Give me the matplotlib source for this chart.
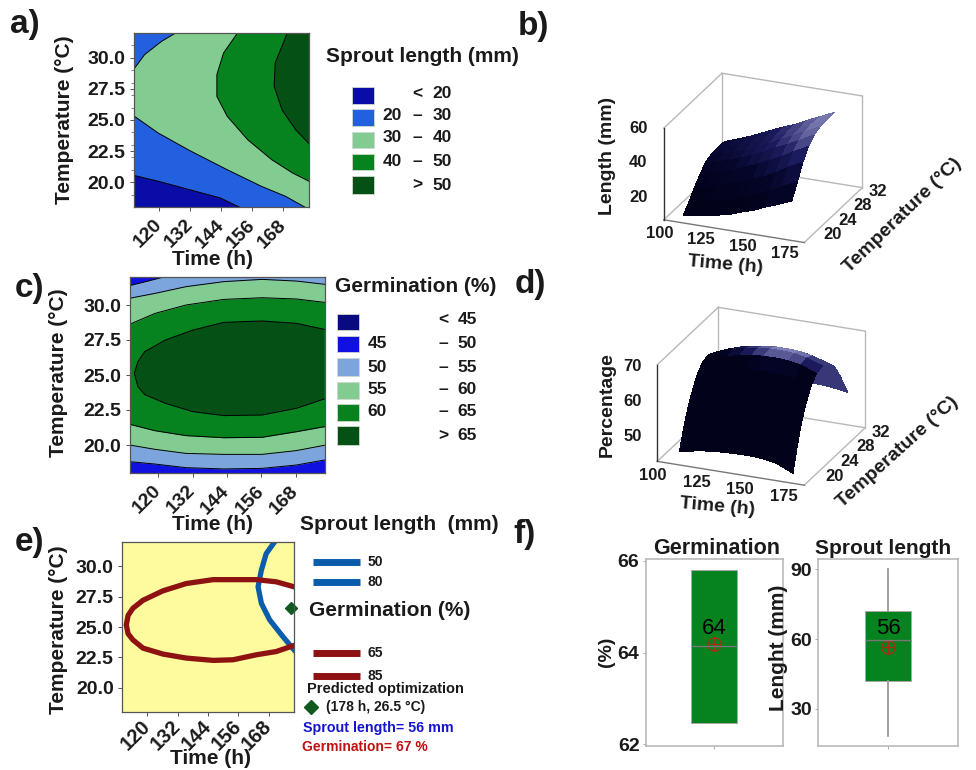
import numpy as np
import matplotlib
matplotlib.use("Agg")
import matplotlib.pyplot as plt
from matplotlib.colors import LinearSegmentedColormap
from matplotlib.patches import Rectangle
from mpl_toolkits.mplot3d import proj3d

plt.rcParams['font.family'] = ['Liberation Sans', 'DejaVu Sans']

W, H = 976, 770

# a) sprout length contour lines (time, temperature)
a_20_t = [110, 119.6, 131.6, 143.6, 150.9]
a_20_T = [20.55, 20.07, 19.4, 18.73, 18]
a_30low_t = [110, 119.6, 131.6, 146.3, 159.6, 168.9, 176.3]
a_30low_T = [25.35, 23.95, 22.56, 21.0, 19.66, 18.86, 18]
a_30up_t = [110, 114.3, 120.9, 126.3]
a_30up_T = [29.05, 30.26, 31.33, 32]
a_40_t = [150.3, 144.9, 142.3, 142.3, 146.3, 154.3, 163.6, 171.6, 178]
a_40_T = [32, 30.4, 28.65, 26.9, 25.3, 23.4, 21.8, 20.74, 20.07]
a_50_t = [169.6, 164.9, 164.5, 167.6, 172.9, 178]
a_50_T = [32, 29.6, 27.7, 25.8, 24.2, 23.1]

# c) germination contour lines, all on the same time values
c_t = [110, 118.9, 129.7, 142.9, 156.2, 168.2, 178]
c_55up = [30.48, 30.83, 31.31, 31.67, 31.83, 31.71, 31.48]
c_60up = [28.62, 29.4, 30.0, 30.4, 30.52, 30.43, 30.19]
c_60low = [21.48, 21.02, 20.67, 20.52, 20.55, 20.95, 21.31]
c_55low = [20.0, 19.69, 19.4, 19.33, 19.33, 19.6, 19.98]
c_50low = [18.81, 18.64, 18.38, 18.29, 18.33, 18.57, 18.93]
c_45_t = [110, 116.5, 121.9]
c_45_T = [31.38, 31.71, 32]
c_65_t = [178, 168.2, 156.2, 142.9, 132.1, 122.5, 115.3, 112.9, 111.7, 112.9, 115.3, 122.5, 132.1, 142.9, 156.2, 168.2, 178]
c_65_T = [28.26, 28.69, 28.86, 28.76, 28.21, 27.5, 26.67, 25.95, 25.12, 24.17, 23.6, 22.98, 22.38, 22.1, 22.14, 22.62, 23.29]

# e) overlaid contours
e_red_t = [178, 171, 163.1, 146, 135.4, 126.2, 118.3, 114.3, 112.4, 111.7, 112.4, 114.3, 118.3, 126.2, 135.4, 146, 153.9, 163.1, 171, 178]
e_red_T = [28.31, 28.72, 28.9, 28.9, 28.58, 27.98, 27.2, 26.54, 25.95, 25.17, 24.45, 23.94, 23.26, 22.77, 22.44, 22.25, 22.3, 22.71, 22.98, 23.48]
e_blue_t = [170.3, 167, 165.1, 163.8, 165.1, 168.4, 173.6, 178]
e_blue_T = [32, 31.04, 29.68, 28.31, 26.95, 25.58, 24.21, 23.12]
e_white_t = [164.2, 171, 178, 178, 173.6, 168.4, 165.1, 163.8]
e_white_T = [28.9, 28.72, 28.31, 23.3, 24.21, 25.58, 26.95, 28.31]
opt_t, opt_T = 176.7, 26.6

time_ticks = [120, 132, 144, 156, 168]
temp_ticks = [20.0, 22.5, 25.0, 27.5, 30.0]

# b) length surface
b_t = [108, 115, 122, 129, 136, 143, 150, 157, 164, 173]
b_T = [18, 19.5, 21, 22.5, 24, 25.5, 27, 28.5, 29.5]
b_Z = [[7.5, 8.5, 9.5, 11, 12.5, 15, 17, 20, 22.5, 26],
       [12, 13.5, 15, 17, 18.5, 21, 23.5, 27, 30, 34],
       [17.5, 19, 21, 23, 25, 28, 30.5, 34, 38, 42.5],
       [22, 24, 26, 28, 31, 33.5, 37, 40, 44, 48.5],
       [26, 27.5, 29.5, 32, 34.5, 37.5, 41, 44, 47.5, 52],
       [27.5, 29, 31, 33.5, 36, 39.5, 43, 46, 49.5, 53.5],
       [28, 30, 32, 34.5, 37, 40.5, 43.5, 46.5, 50, 54],
       [28, 30, 32.5, 35, 37.5, 41, 44, 47, 50, 54],
       [27, 29.5, 32, 35, 38, 41, 43.5, 47, 50, 54]]

# d) germination surface
d_t = [109, 116, 123, 130, 137, 144, 151, 158, 165, 174]
d_T = [18, 19, 20, 21, 22.5, 24, 25.5, 27, 28.5, 30, 32]
d_Z = [[44.5, 45.2, 45.8, 46.2, 46.4, 46.5, 46.5, 46.2, 45.5, 43.5],
       [49.5, 50.3, 51, 51.6, 52.1, 52.4, 52.5, 52.3, 51.6, 49.7],
       [54, 55, 55.9, 56.5, 57.1, 57.5, 57.5, 57.3, 56.6, 55],
       [57.5, 58.7, 59.8, 60.5, 61.1, 61.5, 61.5, 61.3, 60.6, 59],
       [61.7, 63, 64.2, 65, 65.6, 66, 66, 65.8, 65, 63.5],
       [64, 65.5, 66.7, 67.5, 68.1, 68.5, 68.5, 68.3, 67.6, 66],
       [64.5, 66, 67.2, 68, 68.6, 69, 69, 68.8, 68.1, 66.5],
       [63.5, 65, 66.2, 67, 67.6, 68, 68, 67.8, 67.1, 65.6],
       [61, 62.5, 63.7, 64.5, 65.1, 65.5, 65.5, 65.3, 64.7, 63.3],
       [56.5, 58, 59.2, 60, 60.6, 61, 61, 60.8, 60.2, 59],
       [47, 48.6, 50, 51, 52, 52.8, 53, 53, 52.7, 52]]

# f) boxes
germ_stats = dict(med=64.15, q1=62.47, q3=65.81, whislo=62.47, whishi=65.81, fliers=[])
germ_mean = 64.18
germ_label = '64'
sprout_stats = dict(med=59.5, q1=41.8, q3=72.2, whislo=18.4, whishi=90, fliers=[])
sprout_mean = 56.5
sprout_label = '56'

DBLUE = '#0A0CA8'
BLUE = '#2260E0'
LBLUE = '#7BA5DC'
LGREEN = '#82CC92'
GREEN = '#06821F'
DGREEN = '#055014'
NAVY = '#0A0A80'
PURE = '#1010E0'
TXT = '#1a1a1a'


def ax_px(left, top, right, bottom, **kw):
    return fig.add_axes([left / W, 1 - bottom / H, (right - left) / W, (bottom - top) / H], **kw)


def t_px(x, y, s, size=14, weight='bold', color=TXT, ha='center', va='center', rot=0):
    if s:
        fig.text(x / W, 1 - y / H, s, fontsize=size, fontweight=weight, color=color, ha=ha, va=va, rotation=rot,
                 rotation_mode='anchor')


def swatch(x0, x1, y0, y1, c):
    fig.patches.append(Rectangle((x0 / W, 1 - y1 / H), (x1 - x0) / W, (y1 - y0) / H, transform=fig.transFigure,
                                 facecolor=c, edgecolor='#d0d8d0', lw=0.6))


def contour_axes(ax, xsize=14):
    ax.set_xlim(110, 178)
    ax.set_ylim(18, 32)
    ax.set_xticks(time_ticks)
    ax.set_xticklabels(time_ticks, rotation=45, ha='right', va='center', rotation_mode='anchor', fontsize=xsize,
                       fontweight='bold', color=TXT)
    ax.set_yticks(temp_ticks)
    ax.set_yticklabels(['%.1f' % v for v in temp_ticks], fontsize=14, fontweight='bold', color=TXT)
    ax.tick_params(length=3, width=0.7, color='#555555', pad=3)
    ax.tick_params(axis='x', pad=8)
    for s in ax.spines.values():
        s.set_color('#555555')
        s.set_linewidth(0.9)


fig = plt.figure(figsize=(W / 100, H / 100), dpi=100)

# ---- a
ax = ax_px(133.5, 33, 309, 207)
ax.set_facecolor(LGREEN)
ax.fill(a_30low_t + [178, 110], a_30low_T + [18, 18], color=BLUE, lw=0)
ax.fill(a_20_t + [110], a_20_T + [18], color=DBLUE, lw=0)
ax.fill(a_30up_t + [110], a_30up_T + [32], color=BLUE, lw=0)
ax.fill(a_40_t + [178], a_40_T + [32], color=GREEN, lw=0)
ax.fill(a_50_t + [178], a_50_T + [32], color=DGREEN, lw=0)
for xs, ys in [(a_20_t, a_20_T), (a_30low_t, a_30low_T), (a_30up_t, a_30up_T), (a_40_t, a_40_T), (a_50_t, a_50_T)]:
    ax.plot(xs, ys, color='black', lw=0.7)
contour_axes(ax)
ax.set_yticks(np.arange(19, 32, 1), minor=True)
ax.tick_params(which='minor', length=2, width=0.5, color='#555555', labelleft=False)
t_px(213, 259, 'Time (h)', 15)
t_px(64, 120, 'Temperature (°C)', 15, rot=90)
t_px(10, 24, 'a)', 24, ha='left')
t_px(326, 57, 'Sprout length (mm)', 15, ha='left')
a_sw = [(87, 104, DBLUE), (109, 126, BLUE), (132, 148, LGREEN), (154, 170, GREEN), (176, 194, DGREEN)]
for y0, y1, c in a_sw:
    swatch(352, 374, y0, y1, c)
for y, l, d, r in [(94, '', '<', '20'), (116, '20', '–', '30'), (138, '30', '–', '40'), (161, '40', '–', '50'),
                   (185, '', '>', '50')]:
    t_px(392, y, l, 12.5)
    t_px(417, y, d, 12.5)
    t_px(442, y, r, 12.5)

# ---- c
ax = ax_px(129.5, 277, 324.5, 473)
ax.fill_between(c_t, 18, 32, color=LBLUE, lw=0)
ax.fill_between(c_t, 18, c_50low, color=PURE, lw=0)
ax.fill(c_45_t + [110], c_45_T + [32], color=PURE, lw=0)
ax.fill_between(c_t, c_55low, c_55up, color=LGREEN, lw=0)
ax.fill_between(c_t, c_60low, c_60up, color=GREEN, lw=0)
ax.fill(c_65_t, c_65_T, color=DGREEN, lw=0)
for ys in [c_55up, c_60up, c_60low, c_55low, c_50low]:
    ax.plot(c_t, ys, color='black', lw=0.7)
ax.plot(c_45_t, c_45_T, color='black', lw=0.7)
ax.plot(c_65_t, c_65_T, color='black', lw=0.7)
contour_axes(ax)
t_px(212, 525, 'Time (h)', 15)
t_px(58.5, 373, 'Temperature (°C)', 15, rot=90)
t_px(15, 288, 'c)', 24, ha='left')
t_px(335, 286, 'Germination (%)', 15, ha='left')
c_sw = [(314, 330, NAVY), (336, 352, PURE), (358, 376, LBLUE), (382, 399, LGREEN), (404, 421, GREEN),
        (426, 445, DGREEN)]
for y0, y1, col in c_sw:
    swatch(337, 359, y0, y1, col)
for y, l, d, r in [(320, '', '<', '45'), (343, '45', '–', '50'), (367, '50', '–', '55'), (389, '55', '–', '60'),
                   (411, '60', '–', '65'), (436, '', '>', '65')]:
    t_px(377, y, l, 12.5)
    t_px(443.5, y, d, 12.5)
    t_px(467, y, r, 12.5)

# ---- e
ax = ax_px(122, 542, 294, 712)
ax.set_facecolor('#FDFB9E')
ax.fill(e_white_t, e_white_T, color='white', lw=0)
ax.plot(e_blue_t, e_blue_T, color='#0B5CAD', lw=3.8)
ax.plot(e_red_t, e_red_T, color='#8E1212', lw=3.8)
ax.plot(opt_t, opt_T, marker='D', color='#0F5A1E', ms=6, clip_on=False, ls='none')
contour_axes(ax, 14.5)
ax.tick_params(axis='x', pad=5)
t_px(211, 759, 'Time (h)', 15)
t_px(58, 630, 'Temperature (°C)', 15, rot=90)
t_px(15, 543, 'e)', 24, ha='left')
t_px(300, 524, 'Sprout length  (mm)', 15, ha='left')
t_px(309, 611, 'Germination (%)', 15, ha='left')
for y, c, s in [(562, '#0B5CAD', '50'), (582, '#0B5CAD', '80'), (653, '#8E1212', '65'), (676, '#8E1212', '85')]:
    fig.lines.append(plt.Line2D([313 / W, 360 / W], [1 - y / H, 1 - y / H], transform=fig.transFigure, color=c, lw=5,
                                solid_capstyle='butt'))
    t_px(368, y, s, 10, ha='left')
t_px(307, 689, 'Predicted optimization', 10.5, ha='left')
t_px(326, 707, '(178 h, 26.5 °C)', 10, ha='left')
fig.lines.append(plt.Line2D([311 / W], [1 - 707 / H], transform=fig.transFigure, marker='D', color='#0F5A1E', ms=7,
                            ls='none'))
t_px(303, 728, 'Sprout length= 56 mm', 10.3, ha='left', color='#1414D0')
t_px(302, 747, 'Germination= 67 %', 10, ha='left', color='#C01010')

# ---- b, d surfaces
surf_cmap = LinearSegmentedColormap.from_list('surf', [(0, '#02021a'), (0.3, '#05052a'), (0.6, '#1c1c60'),
                                                       (1, '#a4a4d8')])


def surface(rect, ts, Ts, Z, tlim, Tlim, zlim, zticks, vlim, aspect, zoff, back=0.0):
    ax = fig.add_axes([rect[0] / W, 1 - rect[3] / H, (rect[2] - rect[0]) / W, (rect[3] - rect[1]) / H],
                      projection='3d', proj_type='ortho', computed_zorder=False)
    ax.view_init(elev=23, azim=-67.5)
    ax.set_box_aspect((1, 1, aspect))
    ax.set_axis_off()
    ax.patch.set_alpha(0)
    ax.set_xlim(*tlim)
    ax.set_ylim(*Tlim)
    ax.set_zlim(*zlim)
    g = '#b8b8b8'
    t0, t1 = tlim
    T0, T1 = Tlim
    z0, z1 = zlim
    for p, q in [((t0, T1, z0), (t0, T1, z1)), ((t0, T0, z1), (t0, T1, z1)), ((t0, T1, z1), (t1, T1, z1)),
                 ((t1, T1, z0), (t1, T1, z1)), ((t0, T1, z0), (t1, T1, z0)), ((t0, T0, z0), (t0, T1, z0))]:
        ax.plot(*zip(p, q), color=g, lw=1, zorder=1)
    X, Y = np.meshgrid(ts, Ts)
    Z = np.array(Z)
    shade = np.clip((Z - vlim[0]) / (vlim[1] - vlim[0]), 0, 1)
    if back:
        # slope turned away from the viewer shows a little lighter
        shade = np.where(np.gradient(Z, axis=0) < -0.5, np.maximum(shade, back), shade)
    ax.plot_surface(X, Y, Z, facecolors=surf_cmap(shade), rstride=1, cstride=1, linewidth=0,
                    antialiased=False, shade=False, zorder=2)
    ax.plot([t1, t1], [T0, T1], [z0, z0], color=g, lw=1, zorder=3)
    ax.plot([t0, t1], [T0, T0], [z0, z0], color='#777777', lw=1, zorder=3)
    ax.plot([t0, t0], [T0, T0], [z0, z1], color='#333333', lw=1, zorder=3)

    def label(x, y, z, s):
        px, py, _ = proj3d.proj_transform(x, y, z, ax.get_proj())
        ax.text2D(px, py, s, transform=ax.transData, fontsize=12, fontweight='bold', color=TXT, ha='center',
                  va='center')

    for v in [100, 125, 150, 175]:
        label(v, T0 - 1.2, z0 - 0.1 * (z1 - z0), str(v))
    for v in [20, 24, 28, 32]:
        label(t1 + 9, v, z0 - 0.02 * (z1 - z0), str(v))
    for v in zticks:
        label(t0 - zoff, T0 - 1, v, str(v))
    return ax


surface((630, 46, 890, 276), b_t, b_T, b_Z, (100, 184), (16.4, 32), (7, 60), [20, 40, 60], (12, 56), 0.655, 13)
surface((623, 279, 893, 520), d_t, d_T, d_Z, (100, 184), (16.4, 32), (42.6, 70.5), [50, 60, 70], (65, 69.5), 0.66, 12,
        back=0.68)
t_px(608, 156, 'Length (mm)', 14, rot=90)
t_px(725, 265, 'Time (h)', 14, rot=-5)
t_px(903, 215, 'Temperature (°C)', 14, rot=44)
t_px(518, 27, 'b)', 24, ha='left')
t_px(607, 405, 'Percentage', 14, rot=90)
t_px(717, 507, 'Time (h)', 14, rot=-5)
t_px(898, 452, 'Temperature (°C)', 14, rot=42)
t_px(515, 285, 'd)', 24, ha='left')

# ---- f
t_px(513, 535, 'f)', 24, ha='left')


def box(rect, stats, mean, ylim, yticks, label, label_y):
    ax = ax_px(*rect)
    ax.bxp([stats], positions=[0], widths=[0.67], showfliers=False, showcaps=False, patch_artist=True,
           boxprops=dict(facecolor='#06821F', edgecolor='#aaaaaa', lw=0.7),
           medianprops=dict(color='#777777', lw=1),
           whiskerprops=dict(color='#999999', lw=1.3))
    ax.plot(0, mean, marker='o', mfc='none', mec='#A03010', ms=9.5, mew=0.9, ls='none')
    ax.plot(0, mean, marker='+', color='#A03010', ms=9.5, mew=0.9, ls='none')
    ax.text(0, label_y, label, fontsize=16, ha='center', va='center', color='black')
    ax.set_xlim(-1, 1)
    ax.set_ylim(*ylim)
    ax.set_xticks([0])
    ax.set_xticklabels([''])
    ax.set_yticks(yticks)
    ax.set_yticklabels(yticks, fontsize=14, fontweight='bold', color=TXT)
    ax.tick_params(length=2.5, width=0.7, color='#aaaaaa', pad=2)
    for s in ax.spines.values():
        s.set_color('#b4b4b4')
        s.set_linewidth(1.1)
    return ax


box((645.7, 559, 782.7, 746), germ_stats, germ_mean, (61.96, 66.04), [62, 64, 66], germ_label, 64.52)
box((818.3, 559, 957.7, 746), sprout_stats, sprout_mean, (14.1, 94.4), [30, 60, 90], sprout_label, 64.7)
t_px(717, 549, 'Germination', 15.5)
t_px(883, 548, 'Sprout length', 15)
t_px(606, 652, '(%)', 14, rot=90)
t_px(778, 648, 'Lenght (mm)', 15, rot=90)

fig.savefig('out.png', dpi=100)
